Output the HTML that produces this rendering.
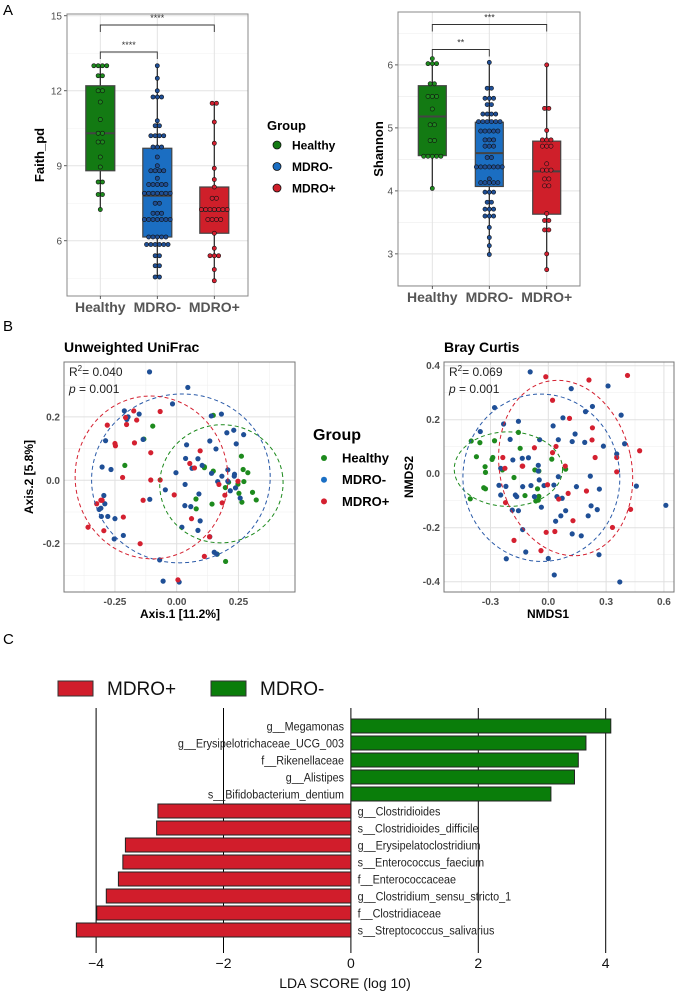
<!DOCTYPE html>
<html><head><meta charset="utf-8">
<style>
html,body{margin:0;padding:0;background:#fff;}
svg{display:block;font-family:"Liberation Sans",Arial,sans-serif;}
</style></head>
<body>
<svg id="fig" width="676" height="992" viewBox="0 0 676 992" xmlns="http://www.w3.org/2000/svg">
<text x="3" y="15" font-size="15" fill="#000">A</text>
<text x="3" y="331" font-size="15" fill="#000">B</text>
<text x="3" y="644" font-size="15" fill="#000">C</text>
</svg>
<script>
// ---------- data ----------
const groups = ["Healthy","MDRO-","MDRO+"];
const faithHealthy = [13,13,13,13,12.6,12.6,12,12,11.55,10.85,10.3,10.3,9.95,9.95,9.35,8.95,8.35,8.35,7.85,7.85,7.25];
const faithNeg = [13,12.5,12,11.75,11.75,11.75,10.8,10.6,10.6,10.2,10.2,10.2,10.2,9.75,9.75,9.75,9.35,9.0,8.8,8.8,8.8,8.8,8.5,8.25,8.25,8.25,8.25,8.25,7.9,7.9,7.9,7.9,7.9,7.9,7.9,7.5,7.5,7.1,7.1,7.1,6.85,6.85,6.85,6.85,6.85,6.85,6.85,6.15,6.15,6.15,6.15,6.15,5.85,5.85,5.85,5.85,5.85,5.85,5.4,5.4,5.0,5.0,4.55,4.55];
const faithPos = [11.5,11.5,10.75,9.9,8.9,8.45,8.15,7.7,7.7,7.25,7.25,7.25,7.25,7.25,7.25,7.25,6.85,6.85,6.85,6.85,6.3,5.7,5.4,5.4,5.4,4.85,4.4];
const faithBoxes = [[7.25,8.8,10.3,12.2,13],[4.55,6.15,7.8,9.7,13],[4.4,6.3,7.2,8.15,11.5]];
const faithTicks = [6,9,12,15];
const shanHealthy = [6.1,6.02,6.02,6.02,5.7,5.7,5.5,5.5,5.5,5.3,5.05,5.05,4.8,4.8,4.55,4.55,4.55,4.55,4.55,4.04];
const shanNeg = [6.04,5.63,5.63,5.47,5.47,5.47,5.37,5.37,5.22,5.22,5.22,5.22,5.1,5.1,5.1,5.1,5.1,5.1,4.95,4.95,4.95,4.95,4.95,4.81,4.81,4.81,4.71,4.71,4.71,4.53,4.53,4.38,4.38,4.38,4.38,4.38,4.38,4.38,4.19,4.13,4.13,4.13,4.13,4.13,3.98,3.98,3.98,3.82,3.82,3.71,3.71,3.71,3.6,3.6,3.6,3.42,3.26,3.13,2.99];
const shanPos = [6.0,5.31,5.31,4.96,4.81,4.81,4.81,4.71,4.71,4.71,4.43,4.33,4.33,4.33,4.19,4.19,4.08,4.08,3.64,3.53,3.53,3.38,3.38,3.0,2.75];
const shanBoxes = [[4.04,4.56,5.18,5.67,6.1],[2.99,4.07,4.6,5.09,6.04],[2.75,3.63,4.31,4.79,6.0]];
const shanTicks = [3,4,5,6];

// UniFrac PCoA points [x,y]
const uniBlue = [[-0.110,0.342],[0.045,0.293],[-0.017,0.241],[-0.212,0.219],[-0.197,0.200],[-0.202,0.192],[-0.152,0.209],[0.181,0.209],[0.140,0.203],[-0.288,0.125],[0.040,0.112],[-0.266,0.034],[-0.302,0.042],[-0.003,0.024],[0.034,-0.013],[-0.046,-0.030],[-0.109,-0.060],[-0.295,-0.048],[-0.291,-0.074],[-0.307,-0.088],[-0.314,-0.092],[-0.305,-0.114],[-0.279,-0.114],[-0.250,-0.121],[-0.216,-0.174],[-0.253,-0.185],[-0.069,-0.251],[-0.055,-0.318],[0.010,-0.321],[0.021,-0.148],[0.033,-0.080],[0.057,-0.083],[0.090,-0.043],[0.095,-0.128],[0.086,-0.158],[0.134,-0.178],[0.152,-0.227],[0.162,-0.233],[0.183,0.013],[0.207,-0.003],[0.233,0.013],[0.238,-0.024],[0.257,-0.056],[0.217,-0.033],[0.241,0.115],[0.271,0.144],[0.231,0.158],[0.203,0.150],[0.166,-0.004],[0.103,0.047],[0.134,0.124],[0.159,0.099],[0.086,0.068],[0.036,0.069],[0.062,0.038],[0.141,0.022],[0.207,0.033],[0.234,0.019],[-0.136,0.129]];
const uniRed = [[-0.281,0.174],[-0.250,0.116],[-0.248,0.109],[-0.207,0.198],[-0.174,0.219],[-0.162,0.190],[-0.203,0.176],[-0.171,0.118],[-0.067,0.217],[-0.105,0.087],[-0.105,0.001],[-0.067,0.001],[-0.219,0.009],[-0.216,-0.116],[-0.295,-0.159],[-0.359,-0.148],[-0.324,-0.074],[-0.302,-0.063],[-0.136,-0.063],[-0.010,-0.046],[0.005,-0.314],[-0.148,-0.200],[0.112,-0.240],[0.095,0.093],[0.053,0.053],[0.072,0.039],[0.060,-0.121],[0.133,-0.178],[0.195,-0.047],[0.171,-0.013],[0.248,-0.003],[0.184,-0.071],[-0.307,-0.063]];
const uniGreen = [[0.148,0.205],[-0.097,0.171],[-0.133,0.130],[-0.210,0.047],[0.262,0.076],[0.269,0.034],[0.288,0.024],[0.112,0.043],[0.148,0.029],[0.210,-0.006],[0.248,-0.012],[0.272,-0.004],[0.197,-0.023],[0.252,-0.041],[0.307,-0.038],[0.322,-0.062],[0.264,-0.069],[0.143,-0.075],[0.078,-0.059],[0.079,-0.090],[0.164,-0.233],[0.198,-0.256],[0.112,0.040]];
// ellipses [cx, cy, rx, ry] in data units
const uniEll = {Healthy:[0.181,-0.011,0.25,0.186], "MDRO-":[0.017,0.006,0.362,0.266], "MDRO+":[-0.102,0.009,0.309,0.257]};

// Bray Curtis NMDS points
const brayBlue = [[-0.094,0.377],[0.119,0.315],[-0.279,0.245],[-0.232,0.184],[-0.155,0.194],[-0.353,0.156],[-0.198,0.127],[-0.045,0.126],[0.025,0.177],[0.076,0.207],[0.052,0.126],[0.124,0.119],[0.193,0.230],[0.310,0.325],[0.378,0.217],[0.396,0.111],[0.286,0.102],[0.189,0.116],[0.139,0.147],[-0.247,0.020],[-0.184,0.051],[-0.135,0.057],[-0.103,0.059],[-0.256,-0.043],[-0.220,-0.047],[-0.171,-0.079],[-0.164,-0.085],[-0.133,-0.048],[-0.090,-0.044],[-0.052,0.031],[-0.052,0.010],[-0.022,-0.044],[0.052,-0.011],[0.029,-0.042],[-0.047,-0.023],[-0.072,-0.085],[-0.036,-0.124],[0.045,-0.085],[0.072,-0.091],[0.065,-0.156],[0.090,-0.137],[0.038,-0.176],[0.0,-0.314],[0.031,-0.375],[0.146,-0.048],[0.218,-0.009],[0.265,-0.057],[0.222,-0.119],[0.207,-0.156],[0.254,-0.133],[0.171,-0.230],[0.263,-0.300],[0.371,-0.401],[0.457,-0.046],[0.610,-0.117],[-0.247,-0.079],[-0.155,-0.137],[-0.187,-0.135],[-0.133,-0.207],[-0.117,-0.290],[-0.218,-0.315],[0.124,-0.223],[0.229,0.249],[0.355,0.073]];
const brayRed = [[-0.013,0.359],[0.211,0.347],[0.411,0.364],[0.022,0.272],[0.110,0.205],[0.229,0.170],[0.227,0.125],[0.040,0.101],[0.022,0.078],[-0.072,0.096],[-0.133,0.028],[-0.236,0.060],[-0.225,0.020],[-0.135,0.028],[0.243,0.060],[0.355,0.060],[0.355,0.007],[0.474,0.085],[0.088,0.028],[-0.004,-0.041],[0.103,-0.073],[0.054,-0.094],[0.198,-0.064],[0.128,-0.174],[-0.011,-0.217],[0.034,-0.214],[-0.038,-0.285],[-0.178,-0.247],[0.333,-0.199],[0.427,-0.132],[-0.222,-0.107]];
const brayGreen = [[-0.400,0.121],[-0.355,0.115],[-0.279,0.122],[-0.155,0.153],[-0.146,0.094],[-0.373,0.063],[-0.288,0.060],[-0.292,0.053],[-0.328,0.026],[-0.326,0.005],[0.018,0.054],[0.090,0.017],[-0.238,0.014],[-0.070,0.014],[-0.049,0.010],[-0.326,-0.056],[-0.335,-0.052],[-0.178,-0.014],[-0.056,-0.056],[-0.121,-0.081],[-0.049,-0.084],[-0.052,-0.098],[-0.405,-0.093],[-0.065,-0.101]];
const brayEll = {Healthy:[-0.207,0.017,0.281,0.138], "MDRO-":[-0.036,-0.015,0.407,0.31], "MDRO+":[0.09,0.021,0.342,0.328]};

// LEfSe
const ldaTaxa = ["g__Megamonas","g__Erysipelotrichaceae_UCG_003","f__Rikenellaceae","g__Alistipes","s__Bifidobacterium_dentium","g__Clostridioides","s__Clostridioides_difficile","g__Erysipelatoclostridium","s__Enterococcus_faecium","f__Enterococcaceae","g__Clostridium_sensu_stricto_1","f__Clostridiaceae","s__Streptococcus_salivarius"];
const ldaScores = [4.08,3.69,3.57,3.51,3.14,-3.03,-3.05,-3.54,-3.58,-3.65,-3.84,-3.99,-4.31];
const ldaTicks = [-4,-2,0,2,4];

// ---------- helpers ----------
const svg = document.getElementById('fig');
const NS = "http://www.w3.org/2000/svg";
function mk(tag, attrs, parent){
  const e = document.createElementNS(NS, tag);
  for (const k in attrs) e.setAttribute(k, attrs[k]);
  (parent||svg).appendChild(e);
  return e;
}
function txt(x,y,s,attrs){ const t = mk('text', Object.assign({x:x,y:y},attrs)); t.textContent = s; return t; }

const boxFill = ["#137a13","#1b6ec2","#cf1f2a"];
const dotFill = ["#1d8a1d","#1f4f96","#d42030"];

// ---------- boxplot panel ----------
function boxPanel(o){
  const sy = v => o.y0 + (o.vmax - v)/(o.vmax - o.vmin)*(o.y1 - o.y0);
  const bg = mk('rect',{x:o.x0,y:o.y0,width:o.x1-o.x0,height:o.y1-o.y0,fill:'#fff'});
  
  
  // minor grid
  for (let i=0;i<o.ticks.length;i++){
    const mv = o.ticks[i] - o.step/2;
    [mv, o.ticks[i]+o.step/2].forEach(v=>{
      if (v>o.vmin && v<o.vmax){ const l=mk('line',{x1:o.x0,x2:o.x1,y1:sy(v),y2:sy(v),stroke:'#f0f0f0','stroke-width':0.6});
          }
    });
  }
  o.ticks.forEach(v=>{
    const l=mk('line',{x1:o.x0,x2:o.x1,y1:sy(v),y2:sy(v),stroke:'#e3e3e3','stroke-width':1});
     
    const tk=mk('line',{x1:o.x0-3,x2:o.x0,y1:sy(v),y2:sy(v),stroke:'#333','stroke-width':0.8});
     
    const t=txt(o.x0-5,sy(v)+3.5,String(v),{'font-size':10,'text-anchor':'end',fill:'#4d4d4d'});
     
  });
  o.gx.forEach((x,i)=>{
    const l=mk('line',{x1:x,x2:x,y1:o.y0,y2:o.y1,stroke:'#e3e3e3','stroke-width':1});
     
  });
  o.gx.forEach((x,i)=>{
    const b=o.boxes[i];
    const w=mk('line',{x1:x,x2:x,y1:sy(b[0]),y2:sy(b[4]),stroke:'#222','stroke-width':1.2});
     
    const r=mk('rect',{x:x-o.bw/2,y:sy(b[3]),width:o.bw,height:sy(b[1])-sy(b[3]),fill:boxFill[i],stroke:'#444','stroke-width':1.2});
     
    const m=mk('line',{x1:x-o.bw/2,x2:x+o.bw/2,y1:sy(b[2]),y2:sy(b[2]),stroke:'#444','stroke-width':2});
     
    // dots, stacked horizontally for equal values
    const vals=o.dots[i]; const counts={};
    vals.forEach(v=>{counts[v]=(counts[v]||0)+1;});
    const used={};
    vals.forEach(v=>{
      const n=counts[v]; const k=used[v]||0; used[v]=k+1;
      const cx=x+(k-(n-1)/2)*4.3;
      const c=mk('circle',{cx:cx,cy:sy(v),r:2.1,fill:dotFill[i],stroke:'#111','stroke-width':0.6});
       
    });
  });
  const fr=mk('rect',{x:o.x0,y:o.y0,width:o.x1-o.x0,height:o.y1-o.y0,fill:'none',stroke:'#888','stroke-width':1});
   
  o.gx.forEach((x,i)=>{
    const tk=mk('line',{x1:x,x2:x,y1:o.y1,y2:o.y1+3,stroke:'#333','stroke-width':0.8});
     
    const t=txt(x,o.y1+16,groups[i],{'font-size':14,'font-weight':'bold','text-anchor':'middle',fill:'#555'});
     
  });
  const yl=txt(0,0,o.ylab,{'font-size':13,'font-weight':'bold','text-anchor':'middle',transform:`translate(${o.ylx},${(o.y0+o.y1)/2}) rotate(-90)`});
   
  // significance brackets
  o.sig.forEach(s=>{
    const xa=o.gx[s.a], xb=o.gx[s.b];
    const p=mk('path',{d:`M${xa},${s.y+7}V${s.y}H${xb}V${s.y+7}`,fill:'none',stroke:'#333','stroke-width':0.9});
     
    const t=txt((xa+xb)/2,s.y-4,s.label,{'font-size':9,'text-anchor':'middle',fill:'#333'});
     
  });
}

boxPanel({name:'faith',x0:67,x1:248,y0:14,y1:296,vmin:3.79,vmax:15.07,ticks:faithTicks,step:3,gx:[100.3,157.3,214.3],bw:29,
  boxes:faithBoxes,dots:[faithHealthy,faithNeg,faithPos],ylab:'Faith_pd',ylx:44,
  sig:[{a:0,b:2,y:25,label:'****'},{a:0,b:1,y:52,label:'****'}]});
boxPanel({name:'shannon',x0:398,x1:580,y0:12,y1:286,vmin:2.49,vmax:6.84,ticks:shanTicks,step:1,gx:[432.3,489.3,546.7],bw:28,
  boxes:shanBoxes,dots:[shanHealthy,shanNeg,shanPos],ylab:'Shannon',ylx:383,
  sig:[{a:0,b:2,y:24.5,label:'***'},{a:0,b:1,y:49.5,label:'**'}]});

// legend A
(function(){
  const g=mk('g',{});
   
  const t=txt(267,130,'Group',{'font-size':13,'font-weight':'bold'},g); g.appendChild(t);
   
  groups.forEach((gn,i)=>{
    const y=145+i*21.5;
    const c=mk('circle',{cx:277,cy:y,r:4,fill:boxFill[i],stroke:'#111','stroke-width':0.8},g);
     
    const l=txt(292,y+4.5,gn,{'font-size':12,'font-weight':'bold'}); g.appendChild(l);
     
  });
})();

// ---------- scatter panels ----------
function scatter(o){
  const sx=v=>o.px0+(v-o.xref)*o.kx, sy=v=>o.py0-(v-o.yref)*o.ky;
  const bg=mk('rect',{x:o.x0,y:o.y0,width:o.x1-o.x0,height:o.y1-o.y0,fill:'#fff'});
   
  o.xminor.forEach(v=>{const l=mk('line',{x1:sx(v),x2:sx(v),y1:o.y0,y2:o.y1,stroke:'#f0f0f0','stroke-width':0.6});
     });
  o.yminor.forEach(v=>{const l=mk('line',{x1:o.x0,x2:o.x1,y1:sy(v),y2:sy(v),stroke:'#f0f0f0','stroke-width':0.6});
     });
  o.xticks.forEach((v,i)=>{
    const l=mk('line',{x1:sx(v),x2:sx(v),y1:o.y0,y2:o.y1,stroke:'#e0e0e0','stroke-width':1});
     
    const t=txt(sx(v),o.y1+13,o.xlabels[i],{'font-size':10,'font-weight':'bold','text-anchor':'middle',fill:'#4d4d4d'});
     
  });
  o.yticks.forEach((v,i)=>{
    const l=mk('line',{x1:o.x0,x2:o.x1,y1:sy(v),y2:sy(v),stroke:'#e0e0e0','stroke-width':1});
     
    const t=txt(o.x0-4,sy(v)+3.5,o.ylabels[i],{'font-size':10,'font-weight':'bold','text-anchor':'end',fill:'#4d4d4d'});
     
  });
  const sets=[o.green,o.blue,o.red];
  sets.forEach((pts,i)=>{
    pts.forEach(p=>{
      const c=mk('circle',{cx:sx(p[0]),cy:sy(p[1]),r:2.6,fill:dotFill[i]});
      
      
    });
  });
  groups.forEach((gn,i)=>{
    const e=o.ell[gn];
    const el=mk('ellipse',{cx:sx(e[0]),cy:sy(e[1]),rx:e[2]*o.kx,ry:e[3]*o.ky,fill:'none',stroke:dotFill[i]==='#1f4f96'?'#2a5aa8':dotFill[i],'stroke-width':1,'stroke-dasharray':'4 3',
      transform:`rotate(${o.rot[i]} ${sx(e[0])} ${sy(e[1])})`});
    
    
  });
  const fr=mk('rect',{x:o.x0,y:o.y0,width:o.x1-o.x0,height:o.y1-o.y0,fill:'none',stroke:'#777','stroke-width':1});
   
  const ti=txt(o.x0,352,o.title,{'font-size':14,'font-weight':'bold'});
   
  const r2=mk('text',{x:o.x0+5,y:376,'font-size':12,fill:'#222'});
  r2.innerHTML='R<tspan dy="-5" font-size="8">2</tspan><tspan dy="5">= '+o.r2+'</tspan>';
   
  const pv=mk('text',{x:o.x0+5,y:393,'font-size':12,fill:'#222'});
  pv.innerHTML='<tspan font-style="italic">p</tspan> = '+o.p;
   
  const xl=txt(o.xlabX,618,o.xlab,{'font-size':12,'font-weight':'bold','text-anchor':'middle'});
   
  const yl=txt(0,0,o.ylab,{'font-size':12,'font-weight':'bold','text-anchor':'middle',transform:`translate(${o.ylabX},${(o.y0+o.y1)/2}) rotate(-90)`});
   
}

scatter({name:'unifrac',title:'Unweighted UniFrac',x0:64,x1:295,y0:362,y1:592,px0:176.7,xref:0,kx:247,py0:480.3,yref:0,ky:317,
  xticks:[-0.25,0,0.25],xlabels:['-0.25','0.00','0.25'],xminor:[-0.375,-0.125,0.125,0.375],
  yticks:[-0.2,0,0.2],ylabels:['-0.2','0.0','0.2'],yminor:[-0.3,-0.1,0.1,0.3],
  green:uniGreen,blue:uniBlue,red:uniRed,ell:uniEll,rot:[-10,-8,-5],r2:'0.040',p:'0.001',
  xlab:'Axis.1   [11.2%]',xlabX:180,ylab:'Axis.2   [5.8%]',ylabX:33});
scatter({name:'braycurtis',title:'Bray Curtis',x0:444,x1:674,y0:362,y1:592,px0:548.3,xref:0,kx:192.7,py0:473.7,yref:0,ky:270,
  xticks:[-0.3,0,0.3,0.6],xlabels:['-0.3','0.0','0.3','0.6'],xminor:[-0.45,-0.15,0.15,0.45],
  yticks:[-0.4,-0.2,0,0.2,0.4],ylabels:['-0.4','-0.2','0.0','0.2','0.4'],yminor:[-0.3,-0.1,0.1,0.3],
  green:brayGreen,blue:brayBlue,red:brayRed,ell:brayEll,rot:[0,-3,-12],r2:'0.069',p:'0.001',
  xlab:'NMDS1',xlabX:548,ylab:'NMDS2',ylabX:413});

// legend B
(function(){
  const t=txt(313,440,'Group',{'font-size':16,'font-weight':'bold'});
   
  const cols=['#1d8a1d','#1a6fc4','#d42030'];
  groups.forEach((gn,i)=>{
    const y=458+i*21.7;
    const c=mk('circle',{cx:324,cy:y,r:3,fill:cols[i]});
     
    const l=txt(342,y+4.5,gn,{'font-size':13,'font-weight':'bold'});
     
  });
})();

// ---------- LEfSe bar chart ----------
(function(){
  const x0=350.9, k=63.7, top=726, step=17, bh=14;
  const sx=v=>x0+v*k;
  ldaTicks.forEach(v=>{
    const l=mk('line',{x1:sx(v),x2:sx(v),y1:708,y2:953,stroke:'#000','stroke-width':1});
     
    const t=txt(sx(v),968,(v<0?'\u2212':'')+Math.abs(v),{'font-size':14,'text-anchor':'middle',fill:'#111'});
     
  });
  ldaScores.forEach((v,i)=>{
    const cy=top+i*step;
    const r=mk('rect',{x:Math.min(sx(0),sx(v)),y:cy-bh/2,width:Math.abs(v)*k,height:bh,fill:v>0?'#0a7d0a':'#d11d2b',stroke:'#222','stroke-width':1});
     
  });
  ldaScores.forEach((v,i)=>{
    const cy=top+i*step;
    const t=txt(v>0?344:357.6,cy+4.5,ldaTaxa[i],{'font-size':12,'text-anchor':v>0?'end':'start',fill:'#222',transform:`translate(${v>0?344:357.6},0) scale(0.9,1) translate(${-(v>0?344:357.6)},0)`});
     
  });
  const xt=txt(345,988,'LDA SCORE (log 10)',{'font-size':14,'text-anchor':'middle',fill:'#111'});
   
  const r1=mk('rect',{x:58,y:681,width:35,height:15,fill:'#d11d2b',stroke:'#333','stroke-width':1});
   
  const l1=txt(107,695,'MDRO+',{'font-size':19,fill:'#111'});
   
  const r2=mk('rect',{x:211,y:681,width:35,height:15,fill:'#0a7d0a',stroke:'#333','stroke-width':1});
   
  const l2=txt(260,695,'MDRO-',{'font-size':19,fill:'#111'});
   
})();
</script>
</body></html>
